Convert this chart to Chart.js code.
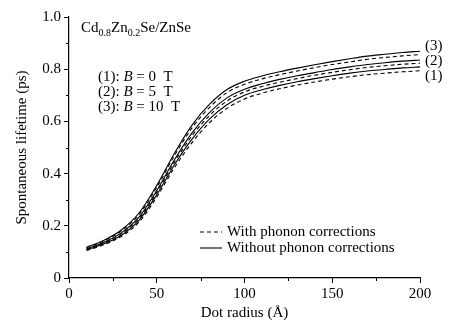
<!DOCTYPE html>
<html>
<head>
<meta charset="utf-8">
<script src="https://cdn.jsdelivr.net/npm/chart.js@4.4.0/dist/chart.umd.min.js"></script>
<style>
  html, body { margin: 0; padding: 0; background: #fff; }
</style>
</head>
<body>
<canvas id="lifetimeChart" width="473" height="333"></canvas>
<script>
// ===== DATA =====

const dotRadius = [10, 20, 30, 40, 50, 60, 70, 80, 90, 100, 110, 120, 130, 140, 150, 160, 170, 180, 190, 200];

// (3) B = 10 T
const without10T = [0.118, 0.145, 0.185, 0.250, 0.355, 0.477, 0.585, 0.665, 0.722, 0.754, 0.774, 0.790, 0.804, 0.817, 0.829, 0.840, 0.850, 0.857, 0.864, 0.869];
const with10T    = [0.116, 0.142, 0.181, 0.244, 0.347, 0.468, 0.574, 0.653, 0.710, 0.742, 0.763, 0.779, 0.793, 0.806, 0.818, 0.828, 0.838, 0.845, 0.851, 0.856];
// (2) B = 5 T
const without5T  = [0.112, 0.137, 0.174, 0.234, 0.335, 0.452, 0.555, 0.634, 0.690, 0.723, 0.744, 0.761, 0.775, 0.787, 0.799, 0.809, 0.818, 0.825, 0.831, 0.835];
const with5T     = [0.110, 0.135, 0.170, 0.229, 0.328, 0.443, 0.544, 0.622, 0.678, 0.713, 0.734, 0.750, 0.764, 0.777, 0.788, 0.798, 0.807, 0.813, 0.819, 0.823];
// (1) B = 0 T
const without0T  = [0.108, 0.131, 0.165, 0.222, 0.319, 0.433, 0.531, 0.609, 0.664, 0.700, 0.721, 0.738, 0.752, 0.764, 0.775, 0.785, 0.793, 0.799, 0.805, 0.809];
const with0T     = [0.105, 0.128, 0.160, 0.215, 0.310, 0.422, 0.518, 0.595, 0.650, 0.686, 0.708, 0.725, 0.739, 0.751, 0.762, 0.771, 0.779, 0.785, 0.790, 0.794];

const xTicks = [0, 50, 100, 150, 200];
const xMinorTicks = [25, 75, 125, 175];
const yTicks = [0, 0.2, 0.4, 0.6, 0.8, 1.0];
const yMinorTicks = [0.1, 0.3, 0.5, 0.7, 0.9];

// curve labels on the right, at these lifetime values
const curveLabels = ['(3)', '(2)', '(1)'];
const curveLabelAt = [0.89, 0.833, 0.775];

const SERIF = '"Liberation Serif", "Times New Roman", serif';

function toPoints(ys) {
  return dotRadius.map((r, i) => ({ x: r, y: ys[i] }));
}

function lineSet(label, ys, dashed) {
  return {
    label: label,
    data: toPoints(ys),
    borderColor: '#000',
    borderWidth: 1.1,
    borderDash: dashed ? [4, 3] : [],
    pointRadius: 0,
    fill: false,
    cubicInterpolationMode: 'monotone'
  };
}

// ===== TEXT / MINOR TICKS / LEGEND =====

function drawRuns(ctx, x, y, runs) {
  runs.forEach(run => {
    ctx.font = (run.italic ? 'italic ' : '') + run.size + 'px ' + SERIF;
    ctx.fillText(run.text, x, y + (run.dy || 0));
    x += ctx.measureText(run.text).width;
  });
}

const annotations = {
  id: 'annotations',
  afterDraw(chart) {
    const { ctx, chartArea, scales } = chart;
    const xs = scales.x, ys = scales.y;
    ctx.save();
    ctx.strokeStyle = '#000';
    ctx.fillStyle = '#000';
    ctx.lineWidth = 1;

    // minor ticks
    ctx.beginPath();
    xMinorTicks.forEach(v => {
      const px = Math.round(xs.getPixelForValue(v)) + 0.5;
      ctx.moveTo(px, chartArea.bottom);
      ctx.lineTo(px, chartArea.bottom + 3);
    });
    yMinorTicks.forEach(v => {
      const py = Math.round(ys.getPixelForValue(v)) + 0.5;
      ctx.moveTo(chartArea.left, py);
      ctx.lineTo(chartArea.left - 3, py);
    });
    ctx.stroke();

    ctx.textBaseline = 'alphabetic';
    ctx.textAlign = 'left';

    // material
    drawRuns(ctx, chartArea.left + 12, chartArea.top + 15, [
      { text: 'Cd', size: 15 },
      { text: '0.8', size: 10, dy: 4 },
      { text: 'Zn', size: 15 },
      { text: '0.2', size: 10, dy: 4 },
      { text: 'Se/ZnSe', size: 15 }
    ]);

    // field list
    ['0', '5', '10'].forEach((b, i) => {
      drawRuns(ctx, chartArea.left + 29, chartArea.top + 64 + i * 15, [
        { text: '(' + (i + 1) + '): ', size: 15 },
        { text: 'B', size: 15, italic: true },
        { text: ' = ' + b + '  T', size: 15 }
      ]);
    });

    // curve labels
    ctx.font = '15px ' + SERIF;
    ctx.textBaseline = 'middle';
    curveLabels.forEach((t, i) => {
      ctx.fillText(t, chartArea.right + 5, ys.getPixelForValue(curveLabelAt[i]));
    });

    // legend
    const lx = chartArea.left + 131;
    const ly = chartArea.top + 215;
    ctx.lineWidth = 1.1;
    ctx.setLineDash([4, 3]);
    ctx.beginPath();
    ctx.moveTo(lx, ly);
    ctx.lineTo(lx + 22, ly);
    ctx.stroke();
    ctx.setLineDash([]);
    ctx.beginPath();
    ctx.moveTo(lx, ly + 16);
    ctx.lineTo(lx + 22, ly + 16);
    ctx.stroke();
    ctx.fillText('With phonon corrections', lx + 27, ly);
    ctx.fillText('Without phonon corrections', lx + 27, ly + 16);

    ctx.restore();
  }
};

// ===== CHART =====

const tickFont = { family: SERIF, size: 15 };

const ctx = document.getElementById('lifetimeChart').getContext('2d');
const lifetimeChart = new Chart(ctx, {
  type: 'line',
  data: {
    datasets: [
      lineSet('(3) without', without10T, false),
      lineSet('(3) with', with10T, true),
      lineSet('(2) without', without5T, false),
      lineSet('(2) with', with5T, true),
      lineSet('(1) without', without0T, false),
      lineSet('(1) with', with0T, true)
    ]
  },
  options: {
    responsive: false,
    animation: false,
    layout: { padding: { left: 0, top: 17, right: 53, bottom: 0 } },
    plugins: {
      legend: { display: false },
      tooltip: { enabled: false }
    },
    scales: {
      x: {
        type: 'linear',
        min: 0,
        max: 200,
        afterFit: s => { s.height = 55; },
        afterBuildTicks: s => { s.ticks = xTicks.map(v => ({ value: v })); },
        ticks: { color: '#000', font: tickFont, padding: 2, maxRotation: 0 },
        grid: { drawOnChartArea: false, tickLength: 5, color: '#000', tickWidth: 1 },
        border: { display: true, color: '#000', width: 1.2 },
        title: { display: true, text: 'Dot radius (Å)', color: '#000', font: tickFont, padding: { top: 0, bottom: 11 } }
      },
      y: {
        min: 0,
        max: 1,
        afterFit: s => { s.width = 69; },
        afterBuildTicks: s => { s.ticks = yTicks.map(v => ({ value: v })); },
        ticks: {
          color: '#000',
          font: tickFont,
          padding: 3,
          callback: v => v === 0 ? '0' : v.toFixed(1)
        },
        grid: { drawOnChartArea: false, tickLength: 5, color: '#000', tickWidth: 1 },
        border: { display: true, color: '#000', width: 1.2 },
        title: { display: true, text: 'Spontaneous lifetime (ps)', color: '#000', font: tickFont, padding: { top: 13, bottom: 0 } }
      }
    }
  },
  plugins: [annotations]
});
</script>
</body>
</html>
